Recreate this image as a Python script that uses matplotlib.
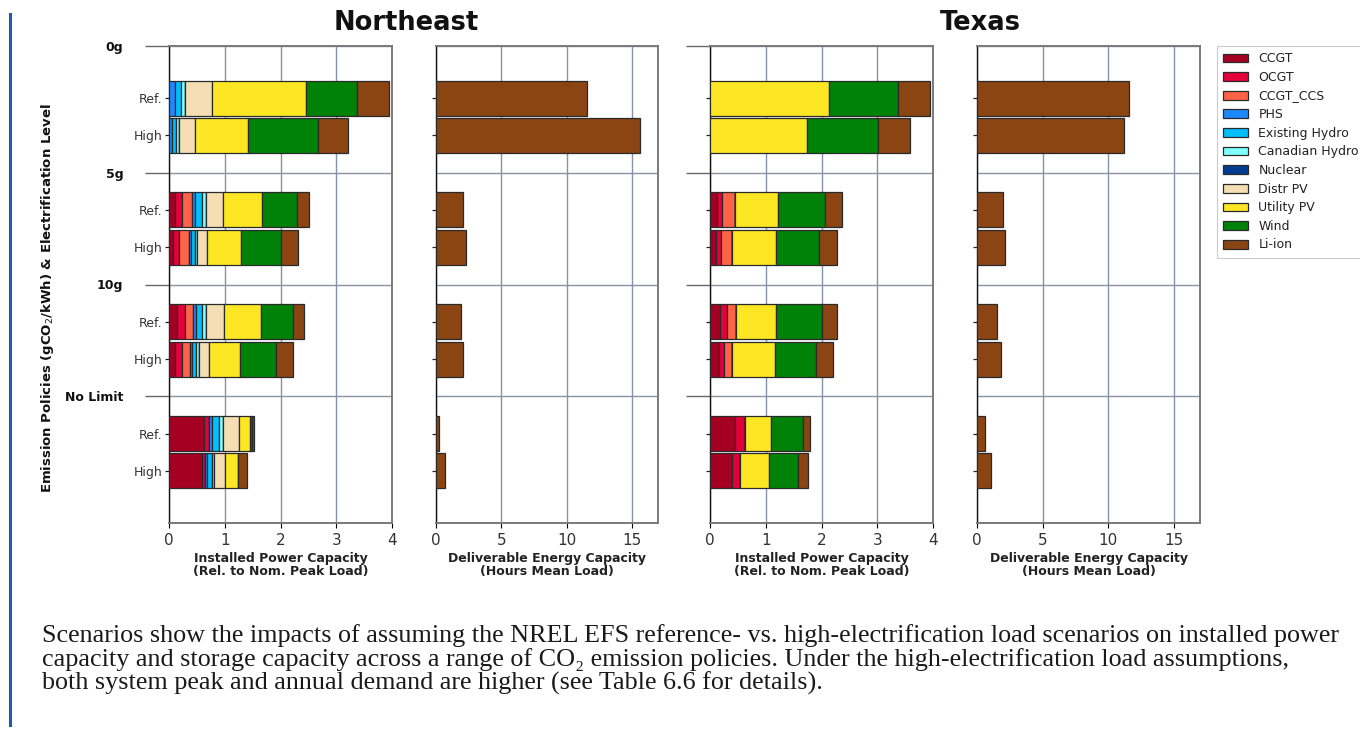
import matplotlib
matplotlib.use("Agg")
import matplotlib.pyplot as plt
import numpy as np
from matplotlib.lines import Line2D

# ---------------- data ----------------
policies = ["0g", "5g", "10g", "No Limit"]
levels = ["Ref.", "High"]
techs = ["CCGT", "OCGT", "CCGT_CCS", "PHS", "Existing Hydro", "Canadian Hydro",
         "Nuclear", "Distr PV", "Utility PV", "Wind", "Li-ion"]
colors = ["#A50021", "#E4003A", "#FF6347", "#1E88FF", "#00BFFF", "#7FFFFF",
          "#003C8F", "#F5DEB3", "#FDE725", "#008208", "#8B4513"]

# order: 0g Ref, 0g High, 5g Ref, 5g High, 10g Ref, 10g High, NoLimit Ref, NoLimit High
ne_ccgt     = [0, 0, 0.10, 0.07, 0.14, 0.11, 0.62, 0.60]
ne_ocgt     = [0, 0, 0.13, 0.11, 0.15, 0.12, 0.10, 0.05]
ne_ccs      = [0, 0, 0.19, 0.18, 0.14, 0.15, 0.00, 0.00]
ne_phs      = [0.10, 0.05, 0.05, 0.04, 0.05, 0.04, 0.06, 0.04]
ne_exhydro  = [0.12, 0.08, 0.13, 0.06, 0.12, 0.06, 0.11, 0.08]
ne_canhydro = [0.07, 0.05, 0.06, 0.04, 0.07, 0.05, 0.07, 0.04]
ne_nuclear  = [0, 0, 0, 0, 0, 0, 0, 0]
ne_distrpv  = [0.48, 0.29, 0.30, 0.19, 0.32, 0.18, 0.30, 0.19]
ne_utilpv   = [1.69, 0.94, 0.71, 0.60, 0.66, 0.57, 0.20, 0.23]
ne_wind     = [0.91, 1.26, 0.62, 0.71, 0.57, 0.64, 0.02, 0.00]
ne_liion    = [0.57, 0.54, 0.23, 0.32, 0.20, 0.30, 0.05, 0.17]

tx_ccgt     = [0, 0, 0.12, 0.11, 0.18, 0.17, 0.45, 0.40]
tx_ocgt     = [0, 0, 0.10, 0.08, 0.12, 0.09, 0.17, 0.13]
tx_ccs      = [0, 0, 0.22, 0.20, 0.17, 0.14, 0.00, 0.00]
tx_phs      = [0, 0, 0, 0, 0, 0, 0, 0]
tx_exhydro  = [0, 0, 0, 0, 0, 0, 0, 0]
tx_canhydro = [0, 0, 0, 0, 0, 0, 0, 0]
tx_nuclear  = [0, 0, 0, 0, 0, 0, 0, 0]
tx_distrpv  = [0, 0, 0, 0, 0, 0, 0, 0]
tx_utilpv   = [2.13, 1.74, 0.78, 0.80, 0.72, 0.76, 0.47, 0.52]
tx_wind     = [1.24, 1.27, 0.85, 0.76, 0.82, 0.74, 0.58, 0.53]
tx_liion    = [0.57, 0.58, 0.29, 0.32, 0.26, 0.30, 0.12, 0.17]

ne_energy = [11.6, 15.6, 2.1, 2.3, 1.9, 2.1, 0.2, 0.7]
tx_energy = [11.6, 11.2, 2.0, 2.1, 1.5, 1.8, 0.6, 1.1]

ne_power = [ne_ccgt, ne_ocgt, ne_ccs, ne_phs, ne_exhydro, ne_canhydro,
            ne_nuclear, ne_distrpv, ne_utilpv, ne_wind, ne_liion]
tx_power = [tx_ccgt, tx_ocgt, tx_ccs, tx_phs, tx_exhydro, tx_canhydro,
            tx_nuclear, tx_distrpv, tx_utilpv, tx_wind, tx_liion]

power_ticks = [0, 1, 2, 3, 4]
energy_ticks = [0, 5, 10, 15]

# ---------------- layout ----------------
W, H = 1360, 729
fig = plt.figure(figsize=(W / 100, H / 100), dpi=100)

def fa(x0, x1, y0, y1):
    return [x0 / W, 1 - y1 / H, (x1 - x0) / W, (y1 - y0) / H]

ypos = [3 * g + l for g in range(len(policies)) for l in range(len(levels))]
sep = [-1.4] + [3 * g - 1 for g in range(1, len(policies))]
ylim = (11.4, -1.4)
barh = 0.94
gridc = "#8593a8"
edgec = "#2a2a2a"

def style_axes(ax, xlim, xticks, major_len, labels):
    ax.set_xlim(*xlim)
    ax.set_ylim(*ylim)
    ax.set_xticks(xticks)
    ax.set_yticks(sep)
    ax.set_yticks(ypos, minor=True)
    ax.set_axisbelow(True)
    ax.grid(True, which="major", color=gridc, lw=1.0)
    for s in ["top", "right", "bottom"]:
        ax.spines[s].set_color("#7a7a7a")
        ax.spines[s].set_linewidth(1.4)
    ax.spines["left"].set_color("#111111")
    ax.spines["left"].set_linewidth(1.0)
    ax.tick_params(axis="x", labelsize=11, labelcolor="#333333", length=3.5)
    ax.tick_params(axis="y", which="major", length=major_len, width=1.0,
                   color="#666666", pad=16)
    ax.tick_params(axis="y", which="minor", length=3, width=0.9, color="#222222",
                   pad=2, labelsize=9, labelcolor="#333333")
    if labels:
        ax.set_yticklabels(policies, fontweight="bold", fontsize=9, color="#111111")
        ax.set_yticklabels([lv for _ in policies for lv in levels], minor=True)
    else:
        ax.set_yticklabels([])
        ax.set_yticklabels([], minor=True)

def power_panel(rect, data, labels):
    ax = fig.add_axes(rect)
    left = np.zeros(len(ypos))
    for vals, c, name in zip(data, colors, techs):
        v = np.array(vals, dtype=float)
        ax.barh(ypos, v, left=left, height=barh, color=c, edgecolor=edgec,
                linewidth=0.9, label=name, zorder=3)
        left += v
    style_axes(ax, (0, 4), power_ticks, 17, labels)
    ax.set_xlabel("Installed Power Capacity\n(Rel. to Nom. Peak Load)",
                  fontsize=9, fontweight="bold", color="#222222", labelpad=3,
                  linespacing=1.0)
    return ax

def energy_panel(rect, vals):
    ax = fig.add_axes(rect)
    ax.barh(ypos, vals, height=barh, color=colors[-1], edgecolor=edgec,
            linewidth=0.9, zorder=3)
    style_axes(ax, (0, 17), energy_ticks, 0, False)
    ax.set_xlabel("Deliverable Energy Capacity\n(Hours Mean Load)",
                  fontsize=9, fontweight="bold", color="#222222", labelpad=3,
                  linespacing=1.0)
    return ax

ax1 = power_panel(fa(169, 392, 46, 523), ne_power, True)
ax2 = energy_panel(fa(436, 658, 46, 523), ne_energy)
ax3 = power_panel(fa(710, 933, 46, 523), tx_power, False)
ax4 = energy_panel(fa(977, 1200, 46, 523), tx_energy)

ax1.set_ylabel("Emission Policies (gCO$_2$/kWh) & Electrification Level",
               fontsize=9.5, fontweight="bold", color="#111111")
ax1.yaxis.set_label_coords((56 - 169) / 223, 0.472)

fig.text(406 / W, 1 - 23 / H, "Northeast", fontsize=18.5, fontweight="bold",
         ha="center", va="center", color="#111111")
fig.text(980 / W, 1 - 23 / H, "Texas", fontsize=18.5, fontweight="bold",
         ha="center", va="center", color="#111111")

handles, labs = ax1.get_legend_handles_labels()
leg = fig.legend(handles, labs, loc="upper left",
                 bbox_to_anchor=(1217 / W, 1 - 46 / H), borderaxespad=0,
                 fontsize=9, frameon=True, fancybox=False, labelspacing=0.45,
                 handlelength=2.0, handleheight=0.7, borderpad=0.5,
                 edgecolor="#cccccc", framealpha=1.0)
leg.get_frame().set_linewidth(0.8)
for t in leg.get_texts():
    t.set_color("#222222")

# page decoration: blue rule and caption
fig.add_artist(Line2D([10 / W, 10 / W], [1 - 725 / H, 1 - 14 / H],
                      transform=fig.transFigure, color="#1f5ba8", lw=2.2))

serif = ["Liberation Serif", "DejaVu Serif"]
cap_lines = [
    "Scenarios show the impacts of assuming the NREL EFS reference- vs. high-electrification load scenarios on installed power",
    "capacity and storage capacity across a range of CO\u2082 emission policies. Under the high-electrification load assumptions,",
    "both system peak and annual demand are higher (see Table 6.6 for details).",
]
for i, line in enumerate(cap_lines):
    fig.text(42 / W, 1 - (642 + 24 * i) / H, line, family=serif, fontsize=18.8,
             ha="left", va="baseline", color="#1a1a1a")

fig.savefig("out.png", dpi=100)
